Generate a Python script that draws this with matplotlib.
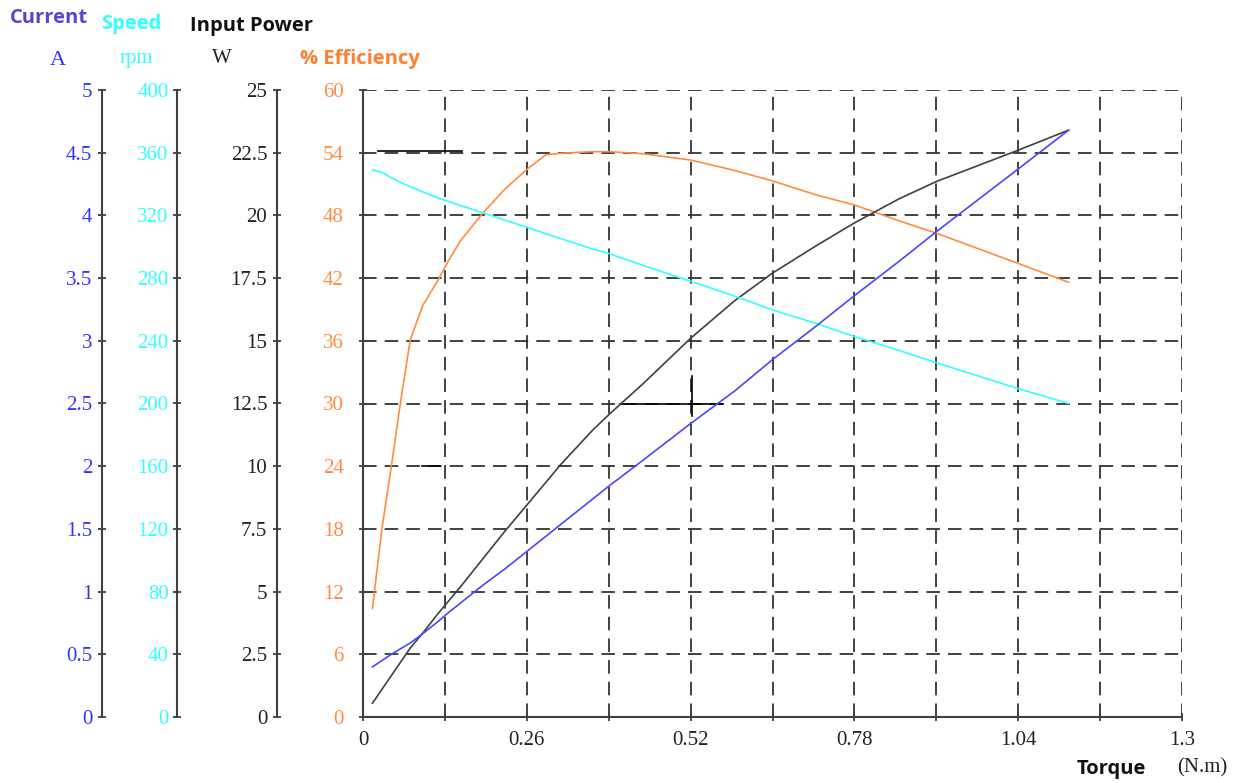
import numpy as np
import matplotlib
matplotlib.use('Agg')
import matplotlib.pyplot as plt
from matplotlib.ticker import FuncFormatter, MultipleLocator

# Data
torque = [0.015, 0.03, 0.045, 0.06, 0.075, 0.095, 0.12, 0.135, 0.155, 0.19,
          0.225, 0.26, 0.29, 0.315, 0.365, 0.39, 0.445, 0.52, 0.59, 0.65,
          0.72, 0.78, 0.85, 0.91, 1.04, 1.12]
efficiency = [10.4, 18.0, 24.0, 30.3, 36.1, 39.4, 41.9, 43.6, 45.6, 48.2,
              50.5, 52.4, 53.8, 53.95, 54.1, 54.1, 53.9, 53.3, 52.3, 51.3,
              49.95, 49.0, 47.5, 46.3, 43.4, 41.6]
power = [0.55, 1.1, 1.65, 2.2, 2.75, 3.35, 4.15, 4.6, 5.2, 6.3,
         7.4, 8.45, 9.35, 10.1, 11.45, 12.05, 13.3, 15.1, 16.6, 17.7,
         18.8, 19.7, 20.65, 21.35, 22.6, 23.4]
current = [0.40, 0.45, 0.50, 0.545, 0.59, 0.665, 0.765, 0.83, 0.91, 1.05,
           1.18, 1.32, 1.44, 1.54, 1.74, 1.84, 2.05, 2.34, 2.6, 2.85,
           3.12, 3.36, 3.63, 3.87, 4.37, 4.68]
speed = [349, 347.5, 344, 341, 338.3, 335, 331, 329, 326.3, 321.7,
         317, 312.4, 308.4, 305, 298.5, 295.7, 288, 278, 268.5, 259.7,
         251, 242.7, 234, 226, 209.5, 200]

# stray black strokes in the original (efficiency-axis units)
stray_x = [[0.024, 0.157], [0.408, 0.571], [0.522, 0.522], [0.093, 0.122]]
stray_y = [[54.2, 54.2], [30, 30], [28.8, 32.6], [24, 24]]

x_ticks = [0, 0.26, 0.52, 0.78, 1.04, 1.3]

c_orange = '#ff8c42'
c_cyan = '#33ffff'
c_blue = '#4848ff'
c_black = '#404040'
spine_c = '#404040'

serif = 'Liberation Serif'
sans = 'Open Sans'

W, H = 1244, 783
fig = plt.figure(figsize=(W / 100, H / 100), dpi=100)
ax = fig.add_axes([363 / W, 1 - 717 / H, 819 / W, 627 / H])

fmt = FuncFormatter(lambda v, p: '%g' % v)


def style_axis(a, color, pad):
    a.tick_params(axis='y', direction='inout', length=6, width=1.3,
                  colors=spine_c, labelcolor=color, labelsize=15, pad=pad)
    for lab in a.get_yticklabels():
        lab.set_fontfamily(serif)


# efficiency (main axis)
ax.set_xlim(0, 1.3)
ax.set_ylim(0, 60)
ax.yaxis.set_major_locator(MultipleLocator(6))
ax.yaxis.set_major_formatter(fmt)
ax.set_xticks(x_ticks)
ax.set_xticklabels(['%g' % t for t in x_ticks], fontfamily=serif)
ax.xaxis.set_minor_locator(MultipleLocator(0.13))
ax.tick_params(axis='x', which='both', direction='inout', length=6, width=1.3,
               colors=spine_c, labelcolor='#222222', labelsize=15, pad=7)
ax.set_axisbelow(True)
ax.grid(True, which='both', axis='x', color='#333333', lw=1.3,
        linestyle=(0, (7.5, 4.5)))
ax.grid(True, which='major', axis='y', color='#333333', lw=1.3,
        linestyle=(0, (7.5, 4.5)))
for s in ['top', 'right']:
    ax.spines[s].set_visible(False)
for s in ['left', 'bottom']:
    ax.spines[s].set_color(spine_c)
    ax.spines[s].set_linewidth(1.5)
ax.plot(torque, efficiency, color=c_orange, lw=1.2, zorder=3)
for sx, sy in zip(stray_x, stray_y):
    ax.plot(sx, sy, color='black', lw=1.2, zorder=3)
style_axis(ax, c_orange, 11)


def side_axis(offset_px, ymax, step):
    a = ax.twinx()
    a.patch.set_visible(False)
    for s in ['top', 'right', 'bottom']:
        a.spines[s].set_visible(False)
    a.spines['left'].set_visible(True)
    a.spines['left'].set_position(('axes', (offset_px - 363) / 819))
    a.spines['left'].set_color(spine_c)
    a.spines['left'].set_linewidth(1.5)
    a.yaxis.set_ticks_position('left')
    a.yaxis.set_label_position('left')
    a.set_ylim(0, ymax)
    a.yaxis.set_major_locator(MultipleLocator(step))
    a.yaxis.set_major_formatter(fmt)
    return a


ax_p = side_axis(277, 25, 2.5)
ax_p.plot(torque, power, color=c_black, lw=1.2)
style_axis(ax_p, '#222222', 4)

ax_s = side_axis(177, 400, 40)
ax_s.plot(torque, speed, color=c_cyan, lw=1.2)
style_axis(ax_s, c_cyan, 3)

ax_c = side_axis(102, 5, 0.5)
ax_c.plot(torque, current, color=c_blue, lw=1.2)
style_axis(ax_c, '#3333ff', 4)


# headers
def ftext(x, y, s, **kw):
    fig.text(x / W, 1 - y / H, s, **kw)


hsize = 14.5
ftext(10, 23, 'Current', color='#5546d0', fontsize=hsize, fontweight='bold',
      fontfamily=sans, va='baseline')
ftext(101, 29, 'Speed', color=c_cyan, fontsize=hsize, fontweight='bold',
      fontfamily=sans, va='baseline')
ftext(190, 31, 'Input Power', color='#111111', fontsize=hsize, fontweight='bold',
      fontfamily=sans, va='baseline')
ftext(300, 64, '% Efficiency', color='#ff8030', fontsize=hsize, fontweight='bold',
      fontfamily=sans, va='baseline')
ftext(58, 65, 'A', color='#3333ff', fontsize=16, fontfamily=serif,
      ha='center', va='baseline')
ftext(136, 63, 'rpm', color=c_cyan, fontsize=15, fontfamily=serif,
      ha='center', va='baseline')
ftext(222, 63, 'W', color='#222222', fontsize=15, fontfamily=serif,
      ha='center', va='baseline')
ftext(1077, 774, 'Torque', color='#111111', fontsize=hsize, fontweight='bold',
      fontfamily=sans, va='baseline')
ftext(1177, 772, '(N.m)', color='#222222', fontsize=15, fontfamily=serif,
      va='baseline')

fig.savefig('out.png', dpi=100)
